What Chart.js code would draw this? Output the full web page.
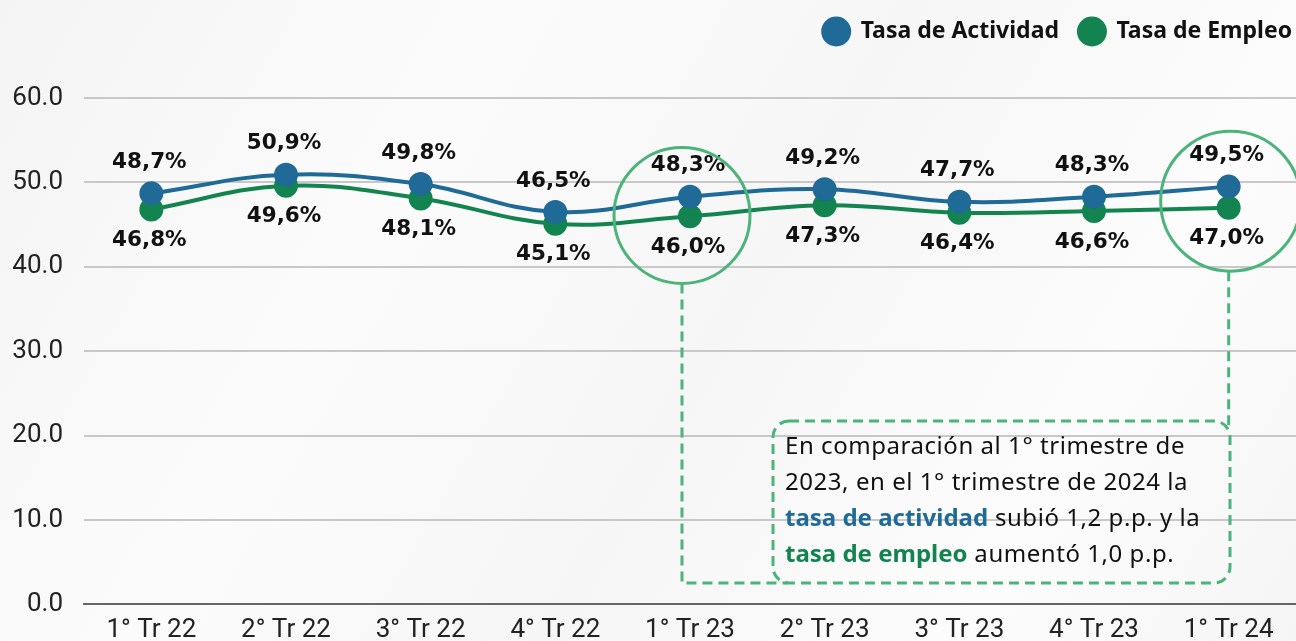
<!DOCTYPE html>
<html>
<head>
<meta charset="utf-8">
<script src="https://cdn.jsdelivr.net/npm/chart.js@4.4.1/dist/chart.umd.min.js"></script>
<style>
  html, body { margin: 0; padding: 0; background: #f9f9f9; }
  #wrap { position: relative; width: 1296px; height: 641px; overflow: hidden;
    background: linear-gradient(120deg, #f4f4f4 0%, #fbfbfb 30%, #f6f6f6 55%, #fcfcfc 80%, #f5f5f5 100%); }
  canvas { position: absolute; left: 0; top: 0; }
  #note { position: absolute; left: 785px; top: 427px; width: 445px; white-space: nowrap;
    font-family: "Noto Sans", sans-serif; font-size: 24px; letter-spacing: 0.55px; line-height: 36px; color: #111; }
  #note .a { color: #1f6a96; font-weight: bold; letter-spacing: 0; }
  #note .e { color: #13844f; font-weight: bold; letter-spacing: 0; }
</style>
</head>
<body>
<div id="wrap">
  <canvas id="c" width="1296" height="641"></canvas>
  <div id="note">En comparación al 1° trimestre de<br>2023, en el 1° trimestre de 2024 la<br><span class="a">tasa de actividad</span> subió 1,2 p.p. y la<br><span class="e">tasa de empleo</span> aumentó 1,0 p.p.</div>
</div>
<script>
const categories = ["1° Tr 22", "2° Tr 22", "3° Tr 22", "4° Tr 22", "1° Tr 23", "2° Tr 23", "3° Tr 23", "4° Tr 23", "1° Tr 24"];
const tasaActividad = [48.7, 50.9, 49.8, 46.5, 48.3, 49.2, 47.7, 48.3, 49.5];
const tasaEmpleo = [46.8, 49.6, 48.1, 45.1, 46.0, 47.3, 46.4, 46.6, 47.0];
const seriesNames = ["Tasa de Actividad", "Tasa de Empleo"];
const yTicks = [0, 10, 20, 30, 40, 50, 60];

const BLUE = "#1f6a96";
const GREEN = "#13844f";
const ANNOT = "#4cb47a";

const fmt = v => v.toFixed(1).replace(".", ",") + "%";

const labelPlugin = {
  id: "valueLabels",
  afterDatasetsDraw(chart) {
    const ctx = chart.ctx;
    ctx.save();
    ctx.font = "bold 21.5px 'DejaVu Sans'";
    ctx.fillStyle = "#111";
    ctx.textAlign = "center";
    ctx.textBaseline = "middle";
    chart.data.datasets.forEach((ds, di) => {
      const meta = chart.getDatasetMeta(di);
      meta.data.forEach((pt, i) => {
        const dy = di === 0 ? -31 : 31;
        ctx.fillText(fmt(ds.data[i]), pt.x - 2, pt.y + dy);
      });
    });
    ctx.restore();
  }
};

const annotPlugin = {
  id: "annot",
  afterDraw(chart) {
    const ctx = chart.ctx;
    const xs = chart.scales.x, ys = chart.scales.y;
    const i1 = 4, i2 = 8;
    const c1x = xs.getPixelForValue(i1) - 8;
    const c1y = ys.getPixelForValue((tasaActividad[i1] + tasaEmpleo[i1]) / 2) + 9;
    const r1 = 68;
    const c2x = xs.getPixelForValue(i2) + 2;
    const c2y = ys.getPixelForValue((tasaActividad[i2] + tasaEmpleo[i2]) / 2) + 4;
    const r2 = 70;
    ctx.save();
    ctx.strokeStyle = ANNOT;
    ctx.lineWidth = 3;
    ctx.beginPath(); ctx.arc(c1x, c1y, r1, 0, Math.PI * 2); ctx.stroke();
    ctx.beginPath(); ctx.arc(c2x, c2y, r2, 0, Math.PI * 2); ctx.stroke();
    ctx.setLineDash([10, 6]);
    const boxBottom = 583, boxTop = 421, boxLeft = 773, boxRight = 1230;
    ctx.beginPath();
    ctx.moveTo(c1x, c1y + r1);
    ctx.lineTo(c1x, boxBottom);
    ctx.lineTo(boxLeft + 14, boxBottom);
    ctx.stroke();
    ctx.beginPath();
    ctx.moveTo(c2x - 2, c2y + r2);
    ctx.lineTo(c2x - 2, boxTop + 8);
    ctx.stroke();
    const rr = 16;
    ctx.beginPath();
    ctx.moveTo(boxLeft + rr, boxTop);
    ctx.lineTo(boxRight - rr, boxTop);
    ctx.arcTo(boxRight, boxTop, boxRight, boxTop + rr, rr);
    ctx.lineTo(boxRight, boxBottom - rr);
    ctx.arcTo(boxRight, boxBottom, boxRight - rr, boxBottom, rr);
    ctx.lineTo(boxLeft + rr, boxBottom);
    ctx.arcTo(boxLeft, boxBottom, boxLeft, boxBottom - rr, rr);
    ctx.lineTo(boxLeft, boxTop + rr);
    ctx.arcTo(boxLeft, boxTop, boxLeft + rr, boxTop, rr);
    ctx.stroke();
    ctx.restore();
  }
};

const legendSpacing = {
  id: "legendSpacing",
  beforeUpdate(chart) {
    const lg = chart.legend;
    if (lg && !lg._patched) {
      const f = lg.fit.bind(lg);
      lg.fit = function () { f(); this.height += 45; };
      lg._patched = true;
    }
  },
  afterLayout(chart) {
    const lg = chart.legend;
    if (lg) { lg.left += 12; lg.right += 12; }
  }
};

new Chart(document.getElementById("c"), {
  type: "line",
  data: {
    labels: categories,
    datasets: [
      { label: seriesNames[0], data: tasaActividad, borderColor: BLUE, backgroundColor: BLUE,
        pointBackgroundColor: BLUE, pointBorderColor: BLUE, borderWidth: 4, pointRadius: 10, tension: 0.4 },
      { label: seriesNames[1], data: tasaEmpleo, borderColor: GREEN, backgroundColor: GREEN,
        pointBackgroundColor: GREEN, pointBorderColor: GREEN, borderWidth: 4, pointRadius: 10, tension: 0.4 }
    ]
  },
  options: {
    responsive: false,
    animation: false,
    layout: { autoPadding: false, padding: { top: 0, right: -4, left: 0, bottom: 0 } },
    plugins: {
      tooltip: { enabled: false },
      legend: {
        position: "top",
        align: "end",
        labels: {
          usePointStyle: true,
          pointStyle: "circle",
          boxHeight: 18.4,
          pointStyleWidth: 26,
          padding: 20,
          color: "#111",
          font: { family: "'Noto Sans'", size: 23, weight: "bold" }
        }
      }
    },
    scales: {
      x: {
        offset: true,
        grid: { display: false, drawTicks: false },
        border: { display: true, color: "#666", width: 2 },
        ticks: { color: "#222", font: { family: "Roboto", size: 26 }, padding: 10, maxRotation: 0 },
        afterFit(s) { s.height = 35; s.paddingLeft = 0; s.paddingRight = 0; }
      },
      y: {
        min: 0, max: 60,
        afterBuildTicks(s) { s.ticks = yTicks.map(v => ({ value: v })); },
        grid: { color: "#c8c8c8", lineWidth: 2, drawTicks: false },
        border: { display: false },
        ticks: { color: "#222", font: { family: "Roboto", size: 26 }, padding: 21,
          callback: v => Number(v).toFixed(1) },
        afterFit(s) { s.width = 84; }
      }
    }
  },
  plugins: [legendSpacing, labelPlugin, annotPlugin]
});
</script>
</body>
</html>
